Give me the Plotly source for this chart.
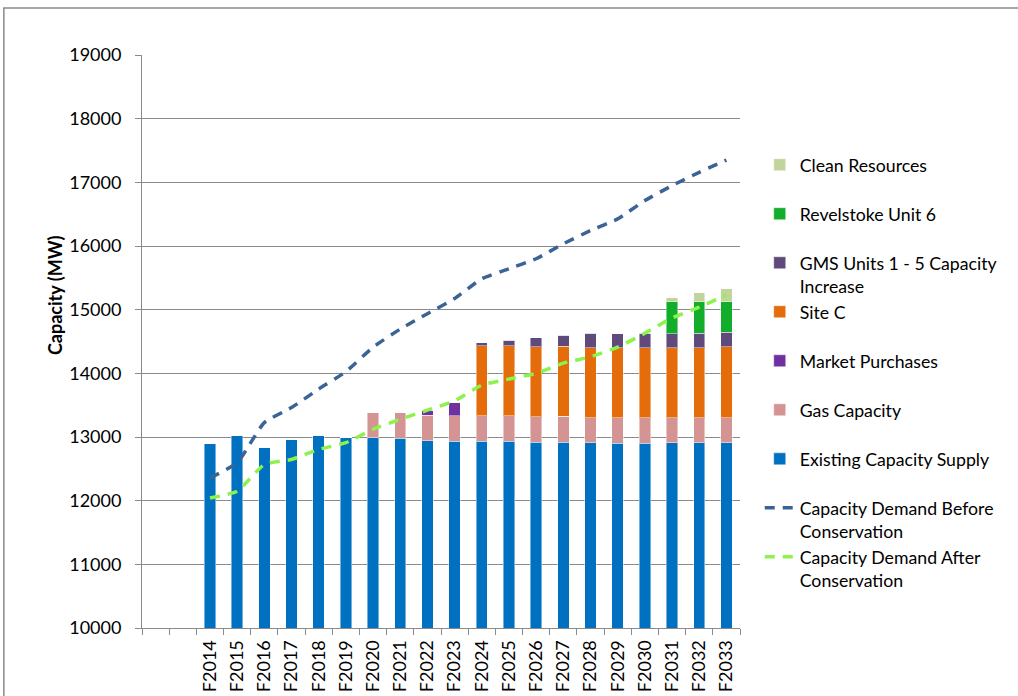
import plotly.graph_objects as go

# Catégories (années fiscales)
categories = ["F2014", "F2015", "F2016", "F2017", "F2018", "F2019", "F2020", "F2021",
              "F2022", "F2023", "F2024", "F2025", "F2026", "F2027", "F2028", "F2029",
              "F2030", "F2031", "F2032", "F2033"]
# deux emplacements vides avant F2014
empty_slots = ["vide1", "vide2"]

existing = [12900, 13026, 12832, 12968, 13016, 12989, 12989, 12984, 12942, 12932,
            12937, 12937, 12921, 12921, 12911, 12900, 12905, 12911, 12911, 12911]
gas = [0, 0, 0, 0, 0, 0, 400, 395, 400, 400,
       395, 395, 400, 405, 394, 400, 395, 389, 389, 389]
market = [0, 0, 0, 0, 0, 0, 0, 0, 68, 210,
          0, 0, 0, 0, 0, 0, 0, 0, 0, 0]
site_c = [0, 0, 0, 0, 0, 0, 0, 0, 0, 0,
          1105, 1100, 1100, 1100, 1100, 1105, 1105, 1105, 1105, 1116]
gms = [0, 0, 0, 0, 0, 0, 0, 0, 0, 0,
       47, 84, 137, 174, 227, 216, 221, 216, 227, 226]
revelstoke = [0, 0, 0, 0, 0, 0, 0, 0, 0, 0,
              0, 0, 0, 0, 0, 0, 0, 500, 489, 479]
clean = [0, 0, 0, 0, 0, 0, 0, 0, 0, 0,
         0, 0, 0, 0, 0, 0, 0, 68, 142, 211]

demand_before = [12358, 12595, 13226, 13463, 13753, 14026, 14410, 14695, 14937, 15174,
                 15486, 15643, 15800, 16034, 16243, 16426, 16713, 16948, 17157, 17350]
demand_after = [12042, 12147, 12568, 12647, 12805, 12911, 13121, 13279, 13421, 13568,
                13815, 13910, 14000, 14160, 14260, 14410, 14630, 14870, 15040, 15230]

y_ticks = [10000, 11000, 12000, 13000, 14000, 15000, 16000, 17000, 18000, 19000]

FONT = "Lato, 'Open Sans', sans-serif"
pad = "<br> "

bars = [
    ("Existing Capacity Supply" + pad, existing, "#0070C0", 7),
    ("Gas Capacity" + pad, gas, "#D59494", 6),
    ("Market Purchases" + pad, market, "#7030A0", 5),
    ("Site C" + pad, site_c, "#E46C0A", 4),
    ("GMS Units 1 - 5 Capacity<br>Increase", gms, "#604A7B", 3),
    ("Revelstoke Unit 6" + pad, revelstoke, "#12AE2B", 2),
    ("Clean Resources" + pad, clean, "#C0D59C", 1),
]

fig = go.Figure()
for name, vals, color, rank in bars:
    fig.add_trace(go.Bar(
        x=categories, y=vals, name=name, legendrank=rank,
        marker=dict(color=color, line=dict(color="rgba(255,255,255,0.45)", width=1)),
    ))

fig.add_trace(go.Scatter(
    x=categories, y=demand_before, mode="lines", name="Capacity Demand Before<br>Conservation",
    legendrank=8, line=dict(color="#3A6497", width=3.5, dash="10px,8px", shape="spline", smoothing=0.5),
))
fig.add_trace(go.Scatter(
    x=categories, y=demand_after, mode="lines", name="Capacity Demand After<br>Conservation",
    legendrank=9, line=dict(color="#8CF24C", width=3.5, dash="10px,8px", shape="spline", smoothing=0.5),
))

# cadre gris du graphique
fig.add_shape(type="rect", xref="paper", yref="paper", x0=-0.231, x1=1.5, y0=-0.2, y1=1.082,
              line=dict(color="#8A8A8A", width=1.5), fillcolor="rgba(0,0,0,0)", layer="below")

# titre de l'axe Y (décalé vers le haut comme dans Excel)
fig.add_annotation(text="<b>Capacity (MW)</b>", xref="paper", yref="paper",
                   x=-0.1455, y=0.581, xanchor="center", yanchor="middle",
                   textangle=-90, showarrow=False, font=dict(size=18))

fig.update_layout(
    width=1018, height=696,
    barmode="stack", bargap=0.58,
    plot_bgcolor="white", paper_bgcolor="white",
    margin=dict(l=142, r=278, t=55, b=68),
    font=dict(family=FONT, size=17, color="black"),
    legend=dict(x=1.033, y=0.84, xanchor="left", yanchor="top", valign="top",
                traceorder="normal", font=dict(size=17.7), tracegroupgap=0,
                bgcolor="rgba(0,0,0,0)"),
    xaxis=dict(
        type="category", categoryorder="array", categoryarray=empty_slots + categories,
        range=[-0.5, len(empty_slots) + len(categories) - 0.5],
        tickvals=empty_slots + categories, ticktext=["", ""] + categories,
        tickson="boundaries", ticks="outside", ticklen=6, tickcolor="#8A8A8A",
        showline=True, linecolor="#8A8A8A", linewidth=1, showgrid=False,
        tickangle=-90, tickfont=dict(size=18), ticklabelstandoff=4,
        automargin=False,
    ),
    yaxis=dict(
        range=[10000, 19000], tickvals=y_ticks, tickformat="d",
        ticks="outside", ticklen=6, tickcolor="#8A8A8A",
        showline=True, linecolor="#8A8A8A", linewidth=1,
        showgrid=True, gridcolor="#8A8A8A", gridwidth=1,
        tickfont=dict(size=18), ticklabelstandoff=10,
        zeroline=False, automargin=False,
    ),
)

# supprimer la marge par défaut du body pour caler la figure en haut à gauche
fig.write_html("out.html", config={"displayModeBar": False},
               post_script="document.body.style.margin='0';")
